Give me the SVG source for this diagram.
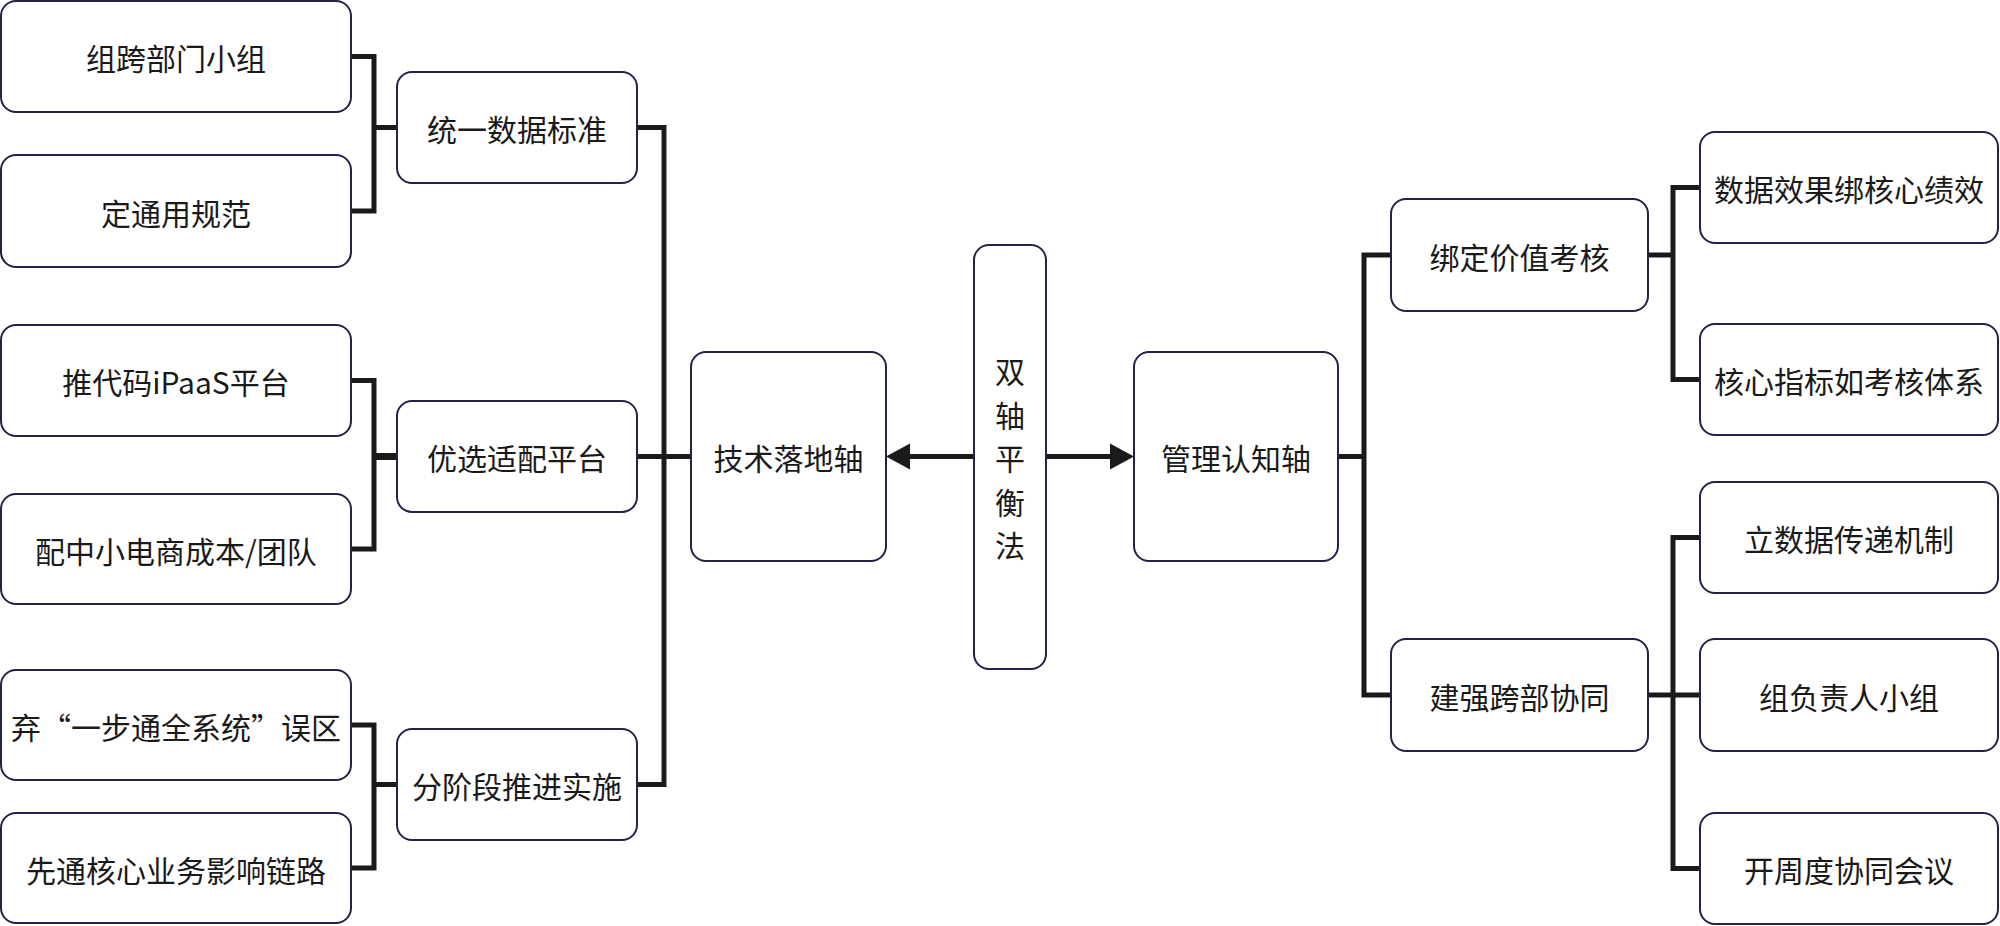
<svg xmlns="http://www.w3.org/2000/svg" width="2000" height="926" viewBox="0 0 2000 926">
  <style>
    .box { fill: #ffffff; stroke: #23234a; stroke-width: 2; }
    .lbl { font-family: "Noto Sans CJK SC", "Noto Sans", sans-serif; font-size: 30px; fill: #1a1a1a; text-anchor: middle; }
    .ln { fill: none; stroke: #1a1a1a; stroke-width: 5; stroke-linejoin: miter; stroke-linecap: butt; }
    .ah { fill: #1a1a1a; }
  </style>
  <rect width="2000" height="926" fill="#ffffff"/>

  <g id="connectors">
    <path class="ln" d="M351 56.5 H374 V211 H351 M374 127.5 H397"/>
    <path class="ln" d="M351 380.5 H374 V549 H351"/>
    <path class="ln" d="M374 456.5 H397" style="stroke-width:7"/>
    <path class="ln" d="M351 725 H374 V868 H351 M374 784.5 H397"/>
    <path class="ln" d="M637 127.5 H664 V784.5 H637 M637 456.5 H691"/>
    <path class="ln" d="M974 456.5 H908"/>
    <polygon class="ah" points="886,456.5 910,443.5 910,469.5"/>
    <path class="ln" d="M1046 456.5 H1113"/>
    <polygon class="ah" points="1134,456.5 1110,443.5 1110,469.5"/>
    <path class="ln" d="M1338 456.5 H1364 M1391 255 H1364 V695 H1391"/>
    <path class="ln" d="M1648 255 H1673 M1700 187.5 H1673 V379.5 H1700"/>
    <path class="ln" d="M1648 695 H1700 M1700 537.5 H1673 V868.5 H1700"/>
  </g>

  <g id="n-a1"><rect class="box" x="1" y="1" width="350" height="111" rx="15"/><text class="lbl" x="176" y="70">组跨部门小组</text></g>
  <g id="n-a2"><rect class="box" x="1" y="155" width="350" height="112" rx="15"/><text class="lbl" x="176" y="225">定通用规范</text></g>
  <g id="n-a3"><rect class="box" x="1" y="325" width="350" height="111" rx="15"/><text class="lbl" x="176" y="394">推代码iPaaS平台</text></g>
  <g id="n-a4"><rect class="box" x="1" y="494" width="350" height="110" rx="15"/><text class="lbl" x="176" y="563">配中小电商成本/团队</text></g>
  <g id="n-a5"><rect class="box" x="1" y="670" width="350" height="110" rx="15"/><text class="lbl" x="176" y="739" xml:lang="zh-CN">弃“一步通全系统”误区</text></g>
  <g id="n-a6"><rect class="box" x="1" y="813" width="350" height="110" rx="15"/><text class="lbl" x="176" y="882">先通核心业务影响链路</text></g>

  <g id="n-b1"><rect class="box" x="397" y="72" width="240" height="111" rx="15"/><text class="lbl" x="517" y="141">统一数据标准</text></g>
  <g id="n-b2"><rect class="box" x="397" y="401" width="240" height="111" rx="15"/><text class="lbl" x="517" y="470">优选适配平台</text></g>
  <g id="n-b3"><rect class="box" x="397" y="729" width="240" height="111" rx="15"/><text class="lbl" x="517" y="798">分阶段推进实施</text></g>

  <g id="n-tech"><rect class="box" x="691" y="352" width="195" height="209" rx="15"/><text class="lbl" x="788.5" y="470">技术落地轴</text></g>

  <g id="n-center"><rect class="box" x="974" y="245" width="72" height="424" rx="15"/>
    <text class="lbl" x="1010" y="383">双</text>
    <text class="lbl" x="1010" y="427">轴</text>
    <text class="lbl" x="1010" y="470">平</text>
    <text class="lbl" x="1010" y="514">衡</text>
    <text class="lbl" x="1010" y="557">法</text>
  </g>

  <g id="n-mgmt"><rect class="box" x="1134" y="352" width="204" height="209" rx="15"/><text class="lbl" x="1236" y="470">管理认知轴</text></g>

  <g id="n-c1"><rect class="box" x="1391" y="199" width="257" height="112" rx="15"/><text class="lbl" x="1519.5" y="268.5">绑定价值考核</text></g>
  <g id="n-c2"><rect class="box" x="1391" y="639" width="257" height="112" rx="15"/><text class="lbl" x="1519.5" y="708.5">建强跨部协同</text></g>

  <g id="n-d1"><rect class="box" x="1700" y="132" width="298" height="111" rx="15"/><text class="lbl" x="1849" y="201">数据效果绑核心绩效</text></g>
  <g id="n-d2"><rect class="box" x="1700" y="324" width="298" height="111" rx="15"/><text class="lbl" x="1849" y="393">核心指标如考核体系</text></g>
  <g id="n-d3"><rect class="box" x="1700" y="482" width="298" height="111" rx="15"/><text class="lbl" x="1849" y="551">立数据传递机制</text></g>
  <g id="n-d4"><rect class="box" x="1700" y="639" width="298" height="112" rx="15"/><text class="lbl" x="1849" y="708.5">组负责人小组</text></g>
  <g id="n-d5"><rect class="box" x="1700" y="813" width="298" height="111" rx="15"/><text class="lbl" x="1849" y="882">开周度协同会议</text></g>
</svg>
